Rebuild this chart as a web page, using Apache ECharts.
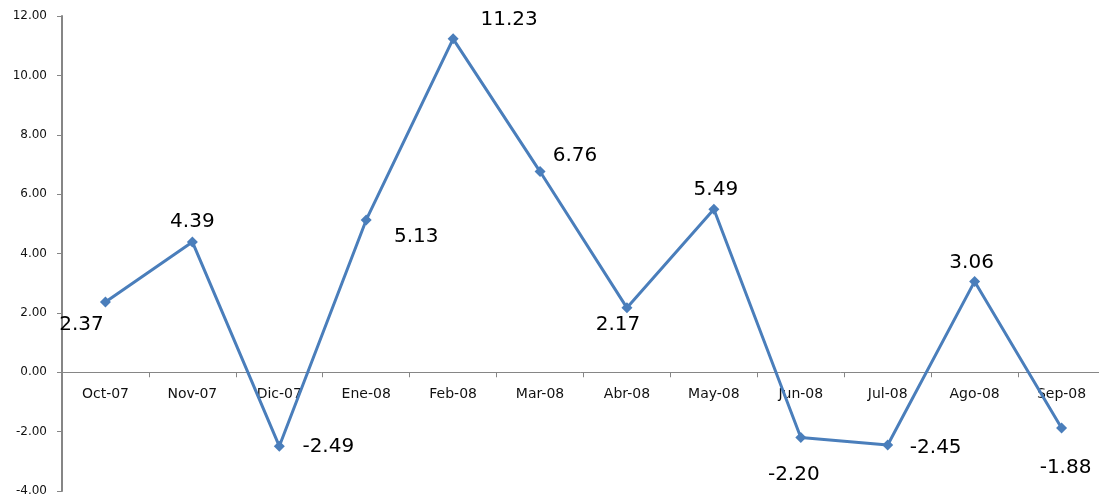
<!DOCTYPE html>
<html>
<head>
<meta charset="utf-8">
<script src="https://cdn.jsdelivr.net/npm/echarts@6/dist/echarts.min.js"></script>
<style>
  html, body { margin: 0; padding: 0; background: #fff; }
  #chart { width: 1099px; height: 498px; }
</style>
</head>
<body>
<div id="chart"></div>
<script>
const months = ['Oct-07', 'Nov-07', 'Dic-07', 'Ene-08', 'Feb-08', 'Mar-08',
  'Abr-08', 'May-08', 'Jun-08', 'Jul-08', 'Ago-08', 'Sep-08'];
const values = [2.37, 4.39, -2.49, 5.13, 11.23, 6.76, 2.17, 5.49, -2.20, -2.45, 3.06, -1.88];
const yMin = -4, yMax = 12, yStep = 2;

// label offsets (px from the point)
const labelOffsets = [
  [-24, 23], [0, -20], [49, 1], [50, 17], [56, -19], [35, -16],
  [-9, 17], [2, -19], [-7, 37], [48, 3], [-3, -19], [4, 40]
];

const gridTop = 16, gridHeight = 475;
// move the category axis (line + labels) up to the zero line
const zeroOffset = -gridHeight * (0 - yMin) / (yMax - yMin);

const chart = echarts.init(document.getElementById('chart'), null, { renderer: 'canvas' });

const seriesData = values.map((v, i) => ({
  value: v,
  label: { offset: labelOffsets[i] }
}));

chart.setOption({
  animation: false,
  grid: { left: 62, top: gridTop, width: 1043, height: gridHeight, outerBoundsMode: 'none', containLabel: false },
  xAxis: {
    type: 'category',
    data: months,
    boundaryGap: true,
    offset: zeroOffset,
    axisLine: { onZero: false, lineStyle: { color: '#868686', width: 1 } },
    axisTick: { show: true, length: 5, lineStyle: { color: '#868686' } },
    axisLabel: {
      margin: 15,
      color: '#111',
      fontFamily: 'DejaVu Sans',
      fontSize: 14,
      interval: 0
    },
    splitLine: { show: false }
  },
  yAxis: {
    type: 'value',
    min: yMin,
    max: yMax,
    interval: yStep,
    axisLine: { show: true, lineStyle: { color: '#868686', width: 2 } },
    axisTick: { show: true, length: 5, lineStyle: { color: '#868686' } },
    axisLabel: {
      margin: 15,
      color: '#111',
      fontFamily: 'DejaVu Sans',
      fontSize: 12,
      formatter: v => v.toFixed(2)
    },
    splitLine: { show: false }
  },
  series: [{
    type: 'line',
    data: seriesData,
    symbol: 'diamond',
    symbolSize: 11,
    lineStyle: { color: '#4a7ebb', width: 3 },
    itemStyle: { color: '#4a7ebb' },
    label: {
      show: true,
      position: 'inside',
      align: 'center',
      verticalAlign: 'middle',
      color: '#000',
      fontFamily: 'DejaVu Sans',
      fontSize: 20,
      formatter: p => p.value.toFixed(2)
    }
  }]
});
</script>
</body>
</html>
